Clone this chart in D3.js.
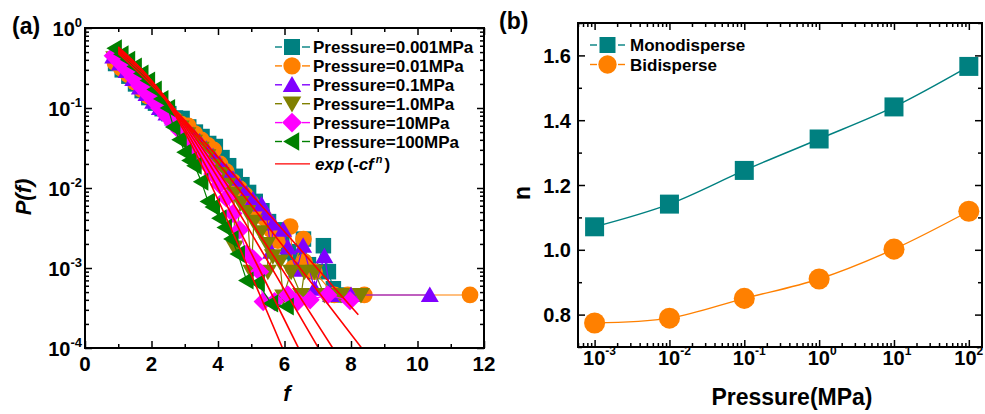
<!DOCTYPE html>
<html>
<head>
<meta charset="utf-8">
<script src="https://cdn.jsdelivr.net/npm/d3@7"></script>
<style>
  body { margin: 0; background: #fff; }
  text { font-family: "Liberation Sans", Arial, sans-serif; font-weight: bold; fill: #000; }
</style>
</head>
<body>
<script>
// ---------- panel (a) data : [f, P(f)] ----------
var seriesNames = ['Pressure=0.001MPa', 'Pressure=0.01MPa', 'Pressure=0.1MPa',
                   'Pressure=1.0MPa', 'Pressure=10MPa', 'Pressure=100MPa'];
var seriesColors = ['#008080', '#ff8000', '#8000ff', '#808000', '#ff00ff', '#008000'];
var seriesShapes = ['square', 'circle', 'up', 'down', 'diamond', 'left'];

var p0001 = [[0.92,0.36],[1.12,0.30],[1.32,0.25],[1.52,0.20],[1.72,0.165],[1.92,0.135],[2.12,0.115],
  [2.32,0.098],[2.52,0.085],[2.72,0.075],[2.92,0.074],[3.12,0.058],[3.32,0.05],[3.52,0.044],[3.72,0.036],
  [3.92,0.033],[4.12,0.024],[4.32,0.019],[4.52,0.014],[4.72,0.011],[4.92,0.0088],[5.12,0.0068],[5.32,0.0052],
  [5.52,0.0038],[5.72,0.003],[5.92,0.0024],[6.12,0.0016],[6.32,0.0013],[6.57,0.0023],[6.72,0.0011],
  [6.92,0.0009],[7.17,0.0019],[7.32,0.0009],[7.47,0.00055],[7.62,0.00046]];
var p001 = [[0.9,0.37],[1.1,0.31],[1.3,0.26],[1.5,0.21],[1.7,0.17],[1.9,0.14],[2.1,0.12],[2.3,0.1],
  [2.5,0.085],[2.7,0.072],[2.9,0.063],[3.1,0.06],[3.3,0.048],[3.5,0.04],[3.7,0.034],[3.87,0.03],[4.06,0.02],
  [4.25,0.016],[4.45,0.012],[4.65,0.0098],[4.82,0.0082],[5.0,0.0065],[5.2,0.0052],[5.4,0.0042],[5.6,0.003],
  [5.8,0.0022],[6.17,0.0033],[6.26,0.001],[6.57,0.0023],[6.6,0.0012],[6.9,0.0009],[7.5,0.00046],
  [7.9,0.00046],[8.4,0.00046],[11.58,0.00046]];
var p01 = [[0.85,0.44],[1.05,0.36],[1.25,0.29],[1.45,0.23],[1.65,0.18],[1.85,0.15],[2.05,0.12],[2.25,0.1],
  [2.45,0.085],[2.65,0.074],[2.85,0.064],[3.05,0.055],[3.25,0.046],[3.45,0.038],[3.65,0.031],[3.85,0.025],
  [4.05,0.02],[4.25,0.016],[4.45,0.013],[4.65,0.0105],[4.85,0.0085],[5.05,0.0072],[5.31,0.0062],[5.45,0.0048],
  [5.6,0.0016],[5.66,0.0036],[5.96,0.003],[6.1,0.0018],[6.37,0.00095],[6.56,0.0019],[6.9,0.00055],
  [7.2,0.0014],[7.4,0.00046],[8.0,0.00046],[10.37,0.00046]];
var p1 = [[0.88,0.42],[1.08,0.35],[1.28,0.28],[1.48,0.22],[1.68,0.18],[1.88,0.15],[2.08,0.12],[2.28,0.1],
  [2.48,0.082],[2.68,0.068],[2.88,0.057],[3.08,0.047],[3.28,0.038],[3.48,0.031],[3.68,0.025],[3.88,0.019],
  [4.08,0.015],[4.28,0.011],[4.48,0.0085],[4.5,0.0018],[4.68,0.0065],[4.88,0.005],[5.0,0.0009],[5.08,0.0038],
  [5.28,0.0028],[5.48,0.002],[5.5,0.0009],[5.65,0.0014],[5.86,0.0012],[5.96,0.00044],[6.2,0.0009],
  [6.5,0.00046],[6.6,0.0009],[6.9,0.0009],[7.2,0.00046],[7.7,0.00046],[8.3,0.00046]];
var p10 = [[0.85,0.45],[1.05,0.37],[1.25,0.3],[1.45,0.24],[1.65,0.19],[1.85,0.155],[2.05,0.125],[2.25,0.1],
  [2.45,0.08],[2.65,0.065],[2.85,0.052],[3.05,0.042],[3.25,0.033],[3.45,0.026],[3.65,0.02],[3.85,0.015],
  [4.05,0.011],[4.25,0.0075],[4.45,0.0048],[4.65,0.003],[4.86,0.0015],[5.06,0.0013],[5.25,0.0009],
  [5.36,0.00038],[5.7,0.00038],[6.1,0.00046],[6.4,0.00038],[6.77,0.0004],[7.3,0.00046],[7.97,0.00039]];
var p100 = [[0.9,0.56],[1.1,0.47],[1.3,0.4],[1.5,0.33],[1.7,0.27],[1.9,0.22],[2.1,0.17],[2.3,0.13],
  [2.5,0.1],[2.66,0.058],[2.85,0.04],[3.0,0.028],[3.15,0.022],[3.3,0.019],[3.5,0.012],[3.7,0.0068],
  [3.85,0.0058],[4.05,0.0042],[4.21,0.0032],[4.41,0.0023],[4.6,0.0015],[4.86,0.0007],[5.2,0.00065],
  [5.6,0.00036],[6.07,0.00033]];
var seriesData = [p0001, p001, p01, p1, p10, p100];

// red fitted curves exp(-cf^n)
var fit0001 = [[1.0,0.48],[3.0,0.07],[8.22,0.00026]];
var fit001 = [[1.0,0.50],[3.0,0.068],[8.32,0.0001]];
var fit01 = [[1.0,0.52],[3.0,0.065],[7.45,0.0001]];
var fit1 = [[1.0,0.54],[3.0,0.06],[7.02,0.0001]];
var fit10 = [[1.0,0.56],[3.0,0.055],[6.42,0.0001]];
var fit100 = [[1.0,0.58],[3.0,0.05],[5.94,0.0001]];
var fitData = [fit0001, fit001, fit01, fit1, fit10, fit100];

var xTicksA = [0, 2, 4, 6, 8, 10, 12];
var yExpA = [0, -1, -2, -3, -4];

// ---------- panel (b) data ----------
var pressureB = [1e-3, 1e-2, 1e-1, 1, 10, 100];
var nMono = [1.071, 1.141, 1.245, 1.342, 1.441, 1.566];
var nBi = [0.774, 0.789, 0.85, 0.91, 1.002, 1.119];
var xExpB = [-3, -2, -1, 0, 1, 2];
var yTicksB = [0.8, 1.0, 1.2, 1.4, 1.6];

var svg = d3.select('body').append('svg')
  .attr('width', 985).attr('height', 414);
svg.append('rect').attr('width', 985).attr('height', 414).attr('fill', '#fff');

// marker shapes
function markerPath(shape, s) {
  var h = s / 2;
  if (shape === 'square') return 'M' + (-h) + ',' + (-h) + 'H' + h + 'V' + h + 'H' + (-h) + 'Z';
  if (shape === 'circle') { var r = s * 0.54; return 'M' + r + ',0A' + r + ',' + r + ' 0 1,1 ' + (-r) + ',0A' + r + ',' + r + ' 0 1,1 ' + r + ',0Z'; }
  if (shape === 'up') return 'M0,' + (-s * 0.55) + 'L' + (s * 0.58) + ',' + (s * 0.45) + 'L' + (-s * 0.58) + ',' + (s * 0.45) + 'Z';
  if (shape === 'down') return 'M0,' + (s * 0.55) + 'L' + (s * 0.58) + ',' + (-s * 0.45) + 'L' + (-s * 0.58) + ',' + (-s * 0.45) + 'Z';
  if (shape === 'left') return 'M' + (-s * 0.55) + ',0L' + (s * 0.45) + ',' + (-s * 0.58) + 'L' + (s * 0.45) + ',' + (s * 0.58) + 'Z';
  if (shape === 'diamond') { var d = s * 0.62; return 'M0,' + (-d) + 'L' + d + ',0L0,' + d + 'L' + (-d) + ',0Z'; }
}

// inward ticks on all four sides + frame
function frameTicks(g, x, y, xMajor, xMinor, yMajor, yMinor, r) {
  [[d3.axisBottom, r.bottom, 'x'], [d3.axisTop, r.top, 'x'],
   [d3.axisLeft, r.left, 'y'], [d3.axisRight, r.right, 'y']].forEach(function (s) {
    var sc = s[2] === 'x' ? x : y;
    var tr = s[2] === 'x' ? 'translate(0,' + s[1] + ')' : 'translate(' + s[1] + ',0)';
    g.append('g').attr('transform', tr)
      .call(s[0](sc).tickValues(s[2] === 'x' ? xMajor : yMajor).tickSize(-7).tickSizeOuter(0).tickFormat(''));
    g.append('g').attr('transform', tr)
      .call(s[0](sc).tickValues(s[2] === 'x' ? xMinor : yMinor).tickSize(-4).tickSizeOuter(0).tickFormat(''));
  });
  g.selectAll('.domain').remove();
  g.selectAll('.tick line').attr('stroke', '#000').attr('stroke-width', 1.5);
  g.append('rect')
    .attr('x', r.left).attr('y', r.top)
    .attr('width', r.right - r.left).attr('height', r.bottom - r.top)
    .attr('fill', 'none').attr('stroke', '#000').attr('stroke-width', 2);
}

// ================= panel (a) =================
var ra = { left: 85, right: 484, top: 28, bottom: 348 };
var xa = d3.scaleLinear().domain([0, 12]).range([ra.left, ra.right]);
var ya = d3.scaleLog().domain([1e-4, 1]).range([ra.bottom, ra.top]);

svg.append('clipPath').attr('id', 'clipA').append('rect')
  .attr('x', ra.left).attr('y', ra.top).attr('width', ra.right - ra.left).attr('height', ra.bottom - ra.top);
var ga = svg.append('g').attr('clip-path', 'url(#clipA)');

var lineA = d3.line().x(d => xa(d[0])).y(d => ya(d[1]));
seriesData.forEach(function (data, i) {
  ga.append('path').attr('d', lineA(data))
    .attr('fill', 'none').attr('stroke', seriesColors[i]).attr('stroke-width', 1.2);
  ga.selectAll('.m' + i).data(data).enter().append('path')
    .attr('transform', d => 'translate(' + xa(d[0]) + ',' + ya(d[1]) + ')')
    .attr('d', markerPath(seriesShapes[i], 15.5))
    .attr('fill', seriesColors[i]);
});
var fitLine = d3.line().x(d => xa(d[0])).y(d => ya(d[1])).curve(d3.curveNatural);
fitData.forEach(function (data) {
  ga.append('path').attr('d', fitLine(data))
    .attr('fill', 'none').attr('stroke', '#ff0000').attr('stroke-width', 1.6);
});

var minorA = [];
yExpA.forEach(function (e) { if (e > -4) for (var k = 2; k <= 9; k++) minorA.push(k * Math.pow(10, e - 1)); });
frameTicks(svg.append('g'), xa, ya, xTicksA, [1, 3, 5, 7, 9, 11],
  yExpA.map(e => Math.pow(10, e)), minorA, ra);

svg.selectAll('.xla').data(xTicksA).enter().append('text')
  .attr('x', d => xa(d)).attr('y', 371).attr('text-anchor', 'middle')
  .attr('font-size', 20.5).text(d => d);
yExpA.forEach(function (e) {
  var t = svg.append('text').attr('x', 82).attr('y', ya(Math.pow(10, e)) + 7.5)
    .attr('text-anchor', 'end').attr('font-size', 20);
  t.append('tspan').text('10');
  t.append('tspan').attr('font-size', 13).attr('dy', -9).text(e);
});

svg.append('text').attr('x', 287).attr('y', 401).attr('text-anchor', 'middle')
  .attr('font-size', 22).attr('font-style', 'italic').text('f');
svg.append('text').attr('transform', 'translate(31,197) rotate(-90)').attr('text-anchor', 'middle')
  .attr('font-size', 22).attr('font-style', 'italic').text('P(f)');
svg.append('text').attr('x', 12).attr('y', 34).attr('font-size', 23).text('(a)');

// legend (a)
var legA = svg.append('g');
seriesNames.forEach(function (name, i) {
  var y = 47 + i * 18.9;
  legA.append('line').attr('x1', 275).attr('x2', 282).attr('y1', y).attr('y2', y)
    .attr('stroke', seriesColors[i]).attr('stroke-width', 1.4);
  legA.append('line').attr('x1', 302).attr('x2', 310).attr('y1', y).attr('y2', y)
    .attr('stroke', seriesColors[i]).attr('stroke-width', 1.4);
  legA.append('path').attr('transform', 'translate(292,' + y + ')')
    .attr('d', markerPath(seriesShapes[i], 16)).attr('fill', seriesColors[i]);
  legA.append('text').attr('x', 313).attr('y', y + 6).attr('font-size', 17).text(name);
});
var yFit = 47 + 6 * 18.9 + 3.5;
legA.append('line').attr('x1', 275).attr('x2', 310).attr('y1', yFit).attr('y2', yFit)
  .attr('stroke', '#ff0000').attr('stroke-width', 1.4);
var tf = legA.append('text').attr('x', 315).attr('y', yFit + 6).attr('font-size', 17).attr('font-style', 'italic');
tf.append('tspan').text('exp');
tf.append('tspan').attr('font-style', 'normal').attr('dx', 3).text('(');
tf.append('tspan').text('-cf');
tf.append('tspan').attr('font-size', 11).attr('dy', -7).attr('dx', 2).text('n');
tf.append('tspan').attr('font-style', 'normal').attr('dy', 7).attr('dx', 2).text(')');

// ================= panel (b) =================
var rb = { left: 578, right: 982, top: 23, bottom: 347 };
var xb = d3.scaleLog().domain([6e-4, 150]).range([rb.left, rb.right]);
var yb = d3.scaleLinear().domain([0.7, 1.7]).range([rb.bottom, rb.top]);

var minorB = [6e-4, 7e-4, 8e-4, 9e-4];
xExpB.forEach(function (e) { if (e < 2) for (var k = 2; k <= 9; k++) minorB.push(k * Math.pow(10, e)); });
frameTicks(svg.append('g'), xb, yb, pressureB, minorB, yTicksB, [0.7, 0.9, 1.1, 1.3, 1.5, 1.7], rb);

var smooth = d3.line().x(d => xb(d[0])).y(d => yb(d[1])).curve(d3.curveCatmullRom.alpha(0.5));
var monoPts = pressureB.map((p, i) => [p, nMono[i]]);
var biPts = pressureB.map((p, i) => [p, nBi[i]]);
svg.append('path').attr('d', smooth(monoPts)).attr('fill', 'none').attr('stroke', '#008080').attr('stroke-width', 1.4);
svg.append('path').attr('d', smooth(biPts)).attr('fill', 'none').attr('stroke', '#ff8000').attr('stroke-width', 1.4);
svg.selectAll('.mono').data(monoPts).enter().append('path')
  .attr('transform', d => 'translate(' + xb(d[0]) + ',' + yb(d[1]) + ')')
  .attr('d', markerPath('square', 19)).attr('fill', '#008080');
svg.selectAll('.bi').data(biPts).enter().append('path')
  .attr('transform', d => 'translate(' + xb(d[0]) + ',' + yb(d[1]) + ')')
  .attr('d', markerPath('circle', 19.5)).attr('fill', '#ff8000');

svg.selectAll('.ylb').data(yTicksB).enter().append('text')
  .attr('x', 571).attr('y', d => yb(d) + 7.5).attr('text-anchor', 'end')
  .attr('font-size', 20).text(d => d.toFixed(1));
xExpB.forEach(function (e, i) {
  // the last label sits against the right edge of the picture
  var shift = i === xExpB.length - 1 ? 3 : 0;
  var t = svg.append('text').attr('x', xb(Math.pow(10, e)) - 11.5 - shift).attr('y', 365).attr('font-size', 20);
  t.append('tspan').text('10');
  t.append('tspan').attr('font-size', 12).attr('dy', -10).text(e);
});

svg.append('text').attr('x', 792).attr('y', 405).attr('text-anchor', 'middle')
  .attr('font-size', 23).text('Pressure(MPa)');
svg.append('text').attr('transform', 'translate(530,193) rotate(-90)').attr('text-anchor', 'middle')
  .attr('font-size', 23).text('n');
svg.append('text').attr('x', 499).attr('y', 29).attr('font-size', 23).text('(b)');

// legend (b)
var legB = [['Monodisperse', '#008080', 'square', 18], ['Bidisperse', '#ff8000', 'circle', 19]];
legB.forEach(function (l, i) {
  var y = 45 + i * 19.5;
  svg.append('line').attr('x1', 590).attr('x2', 597).attr('y1', y).attr('y2', y).attr('stroke', l[1]).attr('stroke-width', 1.4);
  svg.append('line').attr('x1', 618).attr('x2', 625).attr('y1', y).attr('y2', y).attr('stroke', l[1]).attr('stroke-width', 1.4);
  svg.append('path').attr('transform', 'translate(607.5,' + y + ')').attr('d', markerPath(l[2], l[3] - 2)).attr('fill', l[1]);
  svg.append('text').attr('x', 630).attr('y', y + 6).attr('font-size', 17).text(l[0]);
});
</script>
</body>
</html>
